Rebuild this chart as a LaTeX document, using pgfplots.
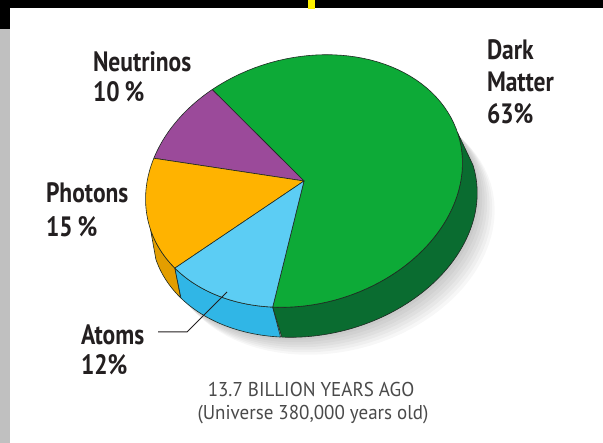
\documentclass[border=0pt]{standalone}
\usepackage{pgfplots}
\usepackage{pgfplotstable}
\pgfplotsset{compat=1.18}
\usepackage{fontspec}
\setmainfont{PT Sans}
\newfontfamily\labfont{PT Sans}[FakeStretch=0.84]
\newfontfamily\subfont{PT Sans}[FakeStretch=0.95]

\definecolor{cgreen}{HTML}{0DAA37}
\definecolor{cgreenside}{HTML}{0A6C30}
\definecolor{cpurple}{HTML}{9B4A9A}
\definecolor{corange}{HTML}{FFB300}
\definecolor{corangeside}{HTML}{E39E00}
\definecolor{cblue}{HTML}{5CCDF4}
\definecolor{cblueside}{HTML}{30B6E6}
\definecolor{cedge}{HTML}{1E2A22}
\definecolor{ctext}{HTML}{231F20}
\definecolor{csub}{HTML}{4A4A4A}
\definecolor{cgraybar}{HTML}{C0C0C0}

% shares of the matter/energy content of the universe (percent)
\pgfplotstableread{
part value
DarkMatter 63
Neutrinos 10
Photons 15
Atoms 12
}\piedata

\pgfplotstablegetelem{0}{value}\of\piedata \edef\vDM{\pgfplotsretval}
\pgfplotstablegetelem{1}{value}\of\piedata \edef\vN{\pgfplotsretval}
\pgfplotstablegetelem{2}{value}\of\piedata \edef\vP{\pgfplotsretval}
\pgfplotstablegetelem{3}{value}\of\piedata \edef\vA{\pgfplotsretval}

\pgfmathsetmacro{\aDMe}{113.05}
\pgfmathsetmacro{\aDMs}{\aDMe-3.6*\vDM}
\pgfmathsetmacro{\aNe}{\aDMe+3.6*\vN}
\pgfmathsetmacro{\aPe}{\aNe+3.6*\vP}
\pgfmathsetmacro{\aAe}{\aPe+3.6*\vA}

\newcommand\slice[3]{%
  \addplot[fill=#3, draw=cedge, line width=0.6pt, line join=round, domain=#1:#2, samples=80, variable=\t]
    ({ex(\t)},{ey(\t)}) -- (304,262) -- cycle;}
\newcommand\sidepiece[3]{%
  \addplot[fill=#3, draw=cedge, line width=0.6pt, line join=round, domain=0:2, samples=201, variable=\s]
    ({ifthenelse(\s<1.005,ex(tp(\s,#1,#2)),bx(tp(\s,#1,#2)))},{ey(tp(\s,#1,#2))-30*off(\s)}) -- cycle;}

\begin{document}
\begin{tikzpicture}
\begin{axis}[
  width=603pt, height=443pt, scale only axis,
  xmin=0, xmax=603, ymin=0, ymax=443,
  axis lines=none, clip=false,
  declare function={
    ex(\t)=304+161*cos(\t)*0.9613-123*sin(\t)*0.2756;
    ey(\t)=262+161*cos(\t)*0.2756+123*sin(\t)*0.9613;
    bx(\t)=304+1.03*(ex(\t)-304)+10;
    tp(\s,\a,\b)=ifthenelse(\s<1.005,\a+\s*(\b-\a),\b-(\s-1)*(\b-\a));
    off(\s)=ifthenelse(\s<1.005,0,1);
  },
]
% background and frame pieces
\fill[white] (axis cs:0,0) rectangle (axis cs:603,443);
\fill[black] (axis cs:0,434.7) rectangle (axis cs:603,443);
\fill[black] (axis cs:0,414) rectangle (axis cs:9.5,443);
\fill[cgraybar] (axis cs:0,0) rectangle (axis cs:9.5,414);
\fill[yellow] (axis cs:308,433.7) rectangle (axis cs:315,443);

% soft shadow
\foreach \k in {1,...,7} {
  \addplot[fill=black, fill opacity=0.03, draw=none, domain=0:360, samples=90, variable=\t]
    ({bx(\t)+2.5*\k},{ey(\t)-30-2.5*\k}) -- cycle;
}

% visible side of the pie
\sidepiece{182}{\aPe}{corangeside}
\sidepiece{\aPe}{\aAe}{cblueside}
\sidepiece{\aAe}{362}{cgreenside}

% top face
\slice{\aDMs}{\aDMe}{cgreen}
\slice{\aDMe}{\aNe}{cpurple}
\slice{\aNe}{\aPe}{corange}
\slice{\aPe}{\aAe}{cblue}

% leader line for Atoms
\addplot[ctext, line width=1pt] coordinates {(158,111) (187,111) (227,151)};

% labels
\begin{scope}[every node/.style={inner sep=0pt, outer sep=0pt, anchor=base west, text=ctext,
    font=\labfont\bfseries\fontsize{28}{30}\selectfont}]
\node at (axis cs:93,371) {Neutrinos};
\node at (axis cs:93,341) {10\hspace{0.18em}\%};
\node at (axis cs:487,383) {Dark};
\node at (axis cs:487,351) {Matter};
\node at (axis cs:487,319) {63\%};
\node at (axis cs:46,240) {Photons};
\node at (axis cs:46,206) {15\hspace{0.18em}\%};
\node at (axis cs:81,98) {Atoms};
\node at (axis cs:81,68) {12\%};
\end{scope}
\begin{scope}[every node/.style={inner sep=0pt, outer sep=0pt, anchor=base, text=csub,
    font=\subfont\fontsize{20}{22}\selectfont}]
\node at (axis cs:311,46) {13.7 BILLION YEARS AGO};
\node at (axis cs:313,23) {(Universe 380,000 years old)};
\end{scope}
\end{axis}
\end{tikzpicture}
\end{document}
